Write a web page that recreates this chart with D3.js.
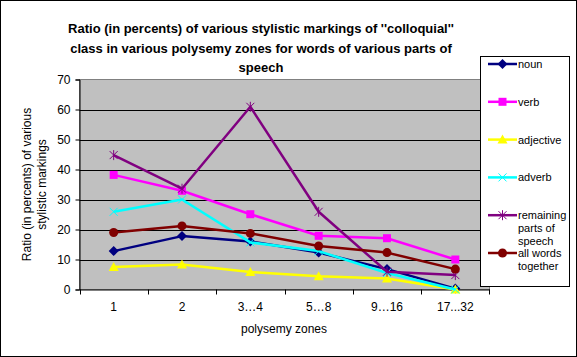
<!DOCTYPE html>
<html><head><meta charset="utf-8">
<script src="https://cdn.jsdelivr.net/npm/d3@7"></script>
<style>body{margin:0;background:#fff}svg{display:block}</style>
</head><body>
<script>
const categories = ["1", "2", "3…4", "5…8", "9…16", "17...32"];
const noun = [12.8, 17.8, 16.0, 12.3, 6.8, 0.3];
const verb = [38.2, 32.9, 25.1, 17.9, 17.1, 10.0];
const adjective = [7.5, 8.3, 5.8, 4.4, 3.7, 0.0];
const adverb = [25.9, 30.0, 15.7, 12.8, 5.5, 0.0];
const remaining = [44.8, 33.6, 60.9, 25.9, 5.9, 4.8];
const allWords = [19.0, 21.2, 18.7, 14.5, 12.3, 6.8];
const seriesNames = ["noun", "verb", "adjective", "adverb", "remaining parts of speech", "all words together"];
const yTicks = [0, 10, 20, 30, 40, 50, 60, 70];
const titleLines = ["Ratio (in percents) of various stylistic markings of ''colloquial''", "class in various polysemy zones for words of various parts of", "speech"];
const yLabelLines = ["Ratio (in percents) of various", "stylistic markings"];
const xTitle = "polysemy zones";

const series = [
  {name: seriesNames[0], values: noun, color: "#000080", marker: "diamond"},
  {name: seriesNames[1], values: verb, color: "#FF00FF", marker: "square"},
  {name: seriesNames[2], values: adjective, color: "#FFFF00", marker: "triangle"},
  {name: seriesNames[3], values: adverb, color: "#00FFFF", marker: "x"},
  {name: seriesNames[4], values: remaining, color: "#800080", marker: "star"},
  {name: seriesNames[5], values: allWords, color: "#800000", marker: "circle"}
];

const W = 577, H = 357;
const plot = {left: 79.5, top: 79.5, right: 489.5, bottom: 289.5};
const font = "Arial, 'Liberation Sans', sans-serif";

const svg = d3.select("body").append("svg").attr("width", W).attr("height", H);
svg.append("rect").attr("x", 0.5).attr("y", 0.5).attr("width", W - 1).attr("height", H - 1)
  .attr("fill", "#fff").attr("stroke", "#000");

const x = d3.scaleBand().domain(categories).range([plot.left, plot.right]);
const y = d3.scaleLinear().domain([0, 70]).range([plot.bottom, plot.top]);

svg.append("rect").attr("x", plot.left).attr("y", plot.top)
  .attr("width", plot.right - plot.left).attr("height", plot.bottom - plot.top)
  .attr("fill", "#C0C0C0").attr("stroke", "#808080");

// gridlines
svg.append("g").selectAll("line").data(yTicks.filter(d => d > 0 && d < 70)).join("line")
  .attr("x1", plot.left).attr("x2", plot.right)
  .attr("y1", d => Math.round(y(d)) + 0.5).attr("y2", d => Math.round(y(d)) + 0.5)
  .attr("stroke", "#000");

// y axis
const yAxis = svg.append("g").attr("transform", `translate(${plot.left},0)`)
  .call(d3.axisLeft(y).tickValues(yTicks).tickSize(4).tickPadding(5).tickFormat(d3.format("d")));
yAxis.select(".domain").attr("stroke", "#000");
yAxis.selectAll("line").attr("stroke", "#000");
yAxis.selectAll("text").attr("font-family", font).attr("font-size", 12).attr("fill", "#000");

// x axis
const xAxis = svg.append("g").attr("transform", `translate(0,${plot.bottom})`)
  .call(d3.axisBottom(x).tickSize(0).tickPadding(13));
xAxis.select(".domain").attr("stroke", "#000");
xAxis.selectAll("text").attr("font-family", font).attr("font-size", 12).attr("fill", "#000");
const tickPos = [plot.left, ...categories.map(c => x(c) + x.bandwidth())];
svg.append("g").selectAll("line").data(tickPos).join("line")
  .attr("x1", d => Math.round(d) + 0.5).attr("x2", d => Math.round(d) + 0.5)
  .attr("y1", plot.bottom).attr("y2", plot.bottom + 5).attr("stroke", "#000");

// lines
const cx = c => x(c) + x.bandwidth() / 2;
const line = d3.line().x((d, i) => cx(categories[i])).y(d => y(d));

function drawMarker(g, type, color, px, py) {
  const s = 4;
  if (type === "diamond") {
    g.append("path").attr("d", `M${px},${py - s - 1}L${px + s + 1},${py}L${px},${py + s + 1}L${px - s - 1},${py}Z`).attr("fill", color);
  } else if (type === "square") {
    g.append("rect").attr("x", px - s).attr("y", py - s).attr("width", 2 * s).attr("height", 2 * s).attr("fill", color);
  } else if (type === "triangle") {
    g.append("path").attr("d", `M${px},${py - s - 1}L${px + s + 1},${py + s}L${px - s - 1},${py + s}Z`).attr("fill", color);
  } else if (type === "x") {
    g.append("path").attr("d", `M${px - s},${py - s}L${px + s},${py + s}M${px - s},${py + s}L${px + s},${py - s}`).attr("stroke", color).attr("stroke-width", 1);
  } else if (type === "star") {
    g.append("path").attr("d", `M${px - s},${py - s}L${px + s},${py + s}M${px - s},${py + s}L${px + s},${py - s}M${px},${py - s - 1}L${px},${py + s + 1}`).attr("stroke", color).attr("stroke-width", 1);
  } else if (type === "circle") {
    g.append("circle").attr("cx", px).attr("cy", py).attr("r", s + 0.5).attr("fill", color);
  }
}

series.forEach(s => {
  const g = svg.append("g");
  g.append("path").datum(s.values).attr("d", line).attr("fill", "none")
    .attr("stroke", s.color).attr("stroke-width", 2.5).attr("stroke-linejoin", "round");
  s.values.forEach((v, i) => drawMarker(g, s.marker, s.color, cx(categories[i]), y(v)));
});

// title
svg.append("g").selectAll("text").data(titleLines).join("text")
  .attr("x", 261).attr("y", (d, i) => 33 + i * 19.5).attr("text-anchor", "middle")
  .attr("font-family", font).attr("font-size", 13).attr("font-weight", "bold").attr("fill", "#000")
  .text(d => d);

// y label
svg.append("g").selectAll("text").data(yLabelLines).join("text")
  .attr("transform", (d, i) => `translate(${31 + i * 15},${(plot.top + plot.bottom) / 2}) rotate(-90)`)
  .attr("text-anchor", "middle").attr("font-family", font).attr("font-size", 12).attr("fill", "#000")
  .text(d => d);

// x title
svg.append("text").attr("x", 284).attr("y", 333).attr("text-anchor", "middle")
  .attr("font-family", font).attr("font-size", 12).attr("fill", "#000").text(xTitle);

// legend
const lg = svg.append("g");
lg.append("rect").attr("x", 480.5).attr("y", 56.5).attr("width", 89).attr("height", 230)
  .attr("fill", "#fff").attr("stroke", "#000");
const legendLines = [["noun"], ["verb"], ["adjective"], ["adverb"], ["remaining", "parts of", "speech"], ["all words", "together"]];
series.forEach((s, i) => {
  const ly = 64 + i * 37.8;
  lg.append("line").attr("x1", 488).attr("x2", 517).attr("y1", ly).attr("y2", ly)
    .attr("stroke", s.color).attr("stroke-width", 2.5);
  drawMarker(lg, s.marker, s.color, 502.5, ly);
  lg.append("text").attr("x", 518).attr("y", ly + 4).attr("font-family", font).attr("font-size", 11).attr("fill", "#000")
    .selectAll("tspan").data(legendLines[i]).join("tspan")
    .attr("x", 518).attr("dy", (d, j) => j === 0 ? 0 : 13).text(d => d);
});
</script>
</body></html>
